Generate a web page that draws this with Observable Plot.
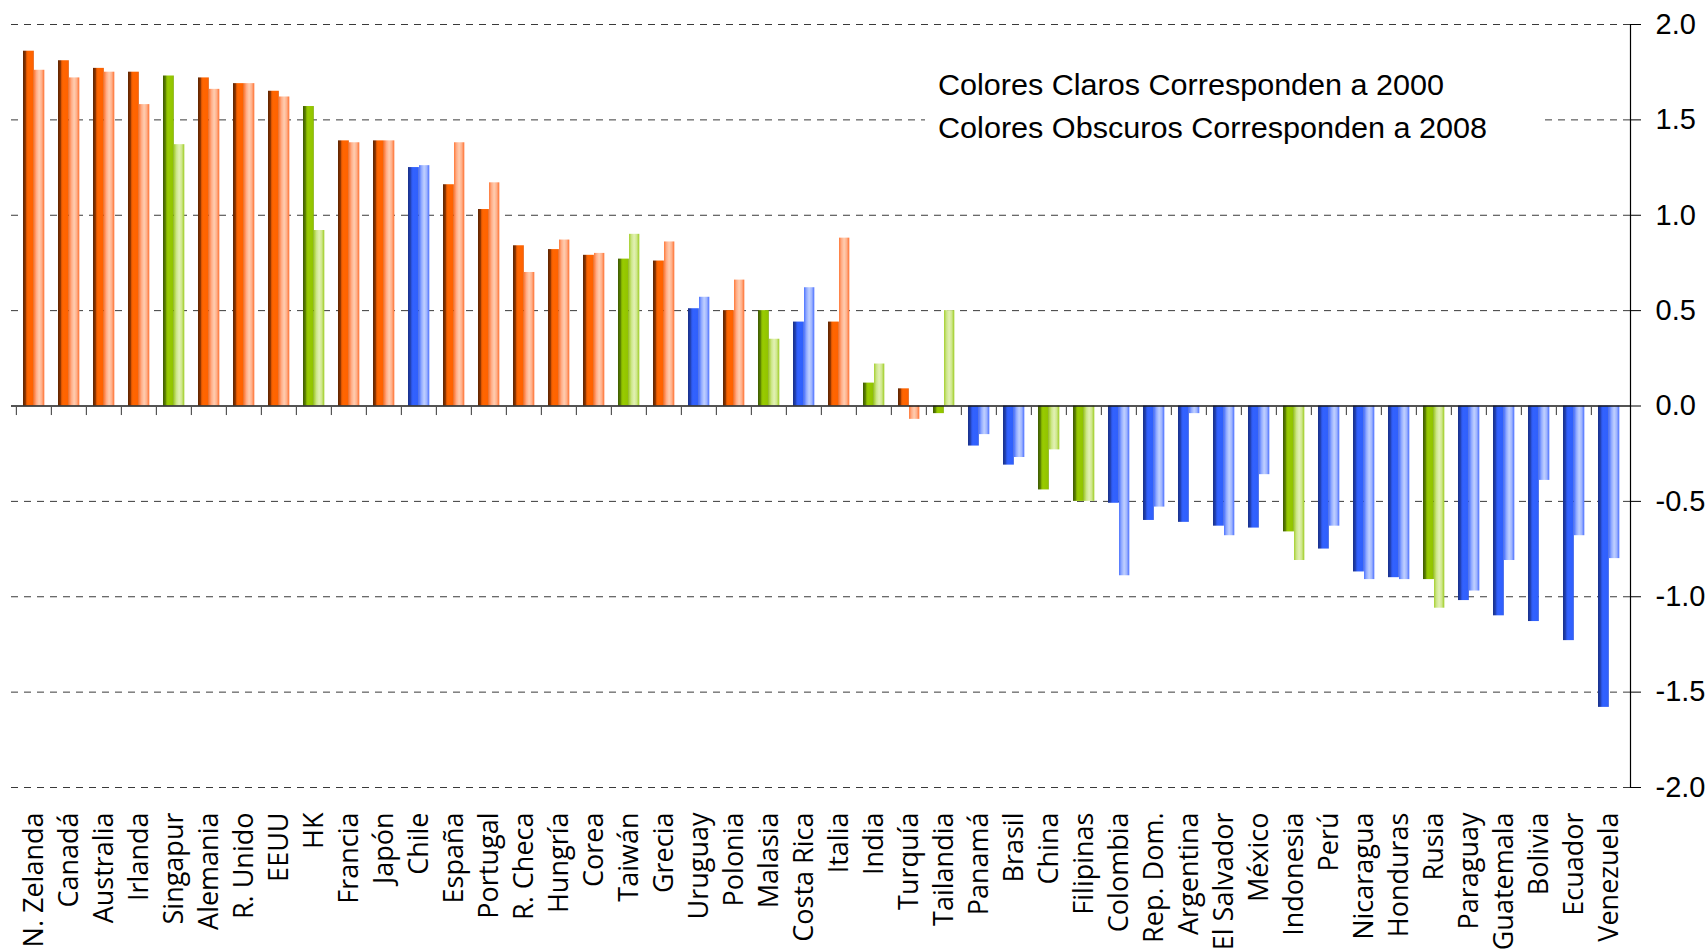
<!DOCTYPE html>
<html>
<head>
<meta charset="utf-8">
<script src="https://cdn.jsdelivr.net/npm/d3@7"></script>
<script src="https://cdn.jsdelivr.net/npm/@observablehq/plot@0.6"></script>
<style>
  html, body { margin: 0; padding: 0; background: #fff; }
  #wrap { position: relative; width: 1707px; height: 952px; overflow: hidden; }
  #legend { position: absolute; left: 925px; top: 58px; width: 616px; height: 92px; background: #fff; }
</style>
</head>
<body>
<div id="wrap"></div>
<script>
const countries = ["N. Zelanda","Canadá","Australia","Irlanda","Singapur","Alemania","R. Unido","EEUU","HK","Francia","Japón","Chile","España","Portugal","R. Checa","Hungría","Corea","Taiwán","Grecia","Uruguay","Polonia","Malasia","Costa Rica","Italia","India","Turquía","Tailandia","Panamá","Brasil","China","Filipinas","Colombia","Rep. Dom.","Argentina","El Salvador","México","Indonesia","Perú","Nicaragua","Honduras","Rusia","Paraguay","Guatemala","Bolivia","Ecuador","Venezuela"];
// group: o = advanced economies (orange), g = Asia/other emerging (green), b = Latin America (blue)
const groups = ["o","o","o","o","g","o","o","o","g","o","o","b","o","o","o","o","o","g","o","b","o","g","b","o","g","o","g","b","b","g","g","b","b","b","b","b","g","b","b","b","g","b","b","b","b","b"];
const values2008 = [1.86,1.81,1.77,1.75,1.73,1.72,1.69,1.65,1.57,1.39,1.39,1.25,1.16,1.03,0.84,0.82,0.79,0.77,0.76,0.51,0.50,0.50,0.44,0.44,0.12,0.09,-0.04,-0.21,-0.31,-0.44,-0.50,-0.51,-0.60,-0.61,-0.63,-0.64,-0.66,-0.75,-0.87,-0.90,-0.91,-1.02,-1.10,-1.13,-1.23,-1.58];
const values2000 = [1.76,1.72,1.75,1.58,1.37,1.66,1.69,1.62,0.92,1.38,1.39,1.26,1.38,1.17,0.70,0.87,0.80,0.90,0.86,0.57,0.66,0.35,0.62,0.88,0.22,-0.07,0.50,-0.15,-0.27,-0.23,-0.50,-0.89,-0.53,-0.04,-0.68,-0.36,-0.81,-0.63,-0.91,-0.91,-1.06,-0.97,-0.81,-0.39,-0.68,-0.80];
const yTicks = [-2.0,-1.5,-1.0,-0.5,0.0,0.5,1.0,1.5,2.0];
const legendLines = ["Colores Claros Corresponden a 2000", "Colores Obscuros Corresponden a 2008"];

const rows = countries.map((c, i) => ({country: c, group: groups[i], v08: values2008[i], v00: values2000[i]}));

const W = 1707, H = 952;
const ml = 11, mr = 77, mt = 24, mb = 165;
const bw = (W - ml - mr) / countries.length;

const gradients = {
  od: [[0,"#5e2400"],[0.22,"#8a3300"],[0.34,"#e85a00"],[0.45,"#ff6600"],[0.88,"#ff6200"],[1,"#e05400"]],
  ol: [[0,"#ff7a3a"],[0.25,"#ffae88"],[0.5,"#ffcdb0"],[0.75,"#ffb08a"],[1,"#ff7030"]],
  gd: [[0,"#3d5a00"],[0.22,"#5a8000"],[0.34,"#88b800"],[0.45,"#99cc00"],[0.88,"#92c400"],[1,"#7aa800"]],
  gl: [[0,"#a6d030"],[0.25,"#cde68a"],[0.5,"#e2f1b4"],[0.75,"#cfe78c"],[1,"#9ccc20"]],
  bd: [[0,"#18308a"],[0.22,"#2140b0"],[0.34,"#2c56e8"],[0.45,"#3262ff"],[0.88,"#3060fc"],[1,"#2a52e0"]],
  bl: [[0,"#4d74ff"],[0.25,"#93acff"],[0.5,"#c0d0ff"],[0.75,"#9fb5ff"],[1,"#4a6eff"]]
};
const gKeys = Object.keys(gradients);

const chart = Plot.plot({
  width: W,
  height: H,
  marginLeft: ml,
  marginRight: mr,
  marginTop: mt,
  marginBottom: mb,
  style: {background: "#fff", color: "#000", fontFamily: "'Liberation Sans', sans-serif"},
  x: {type: "band", domain: countries, padding: 0, label: null},
  y: {domain: [-2, 2], label: null},
  color: {type: "ordinal", domain: gKeys, range: gKeys.map(k => `url(#grad-${k})`)},
  marks: [
    Plot.gridY(yTicks.filter(d => d !== 0), {stroke: "#3a3a3a", strokeOpacity: 1, strokeDasharray: "7,6", strokeWidth: 1}),
    Plot.barY(rows, {x: "country", y: "v08", fill: d => d.group + "d", insetLeft: 7, insetRight: bw - 18}),
    Plot.barY(rows, {x: "country", y: "v00", fill: d => d.group + "l", insetLeft: 18, insetRight: bw - 28.5}),
    Plot.ruleY([0], {stroke: "#1a1a1a", strokeWidth: 1.5}),
    Plot.ruleX(rows, {x: "country", y1: 0, y2: -0.05, dx: -bw / 2, stroke: "#555", strokeWidth: 1.2}),
    Plot.frame({anchor: "right", stroke: "#000", strokeWidth: 1.2}),
    Plot.axisY({anchor: "right", ticks: yTicks, tickSize: 10, tickPadding: 15, tickFormat: d => d.toFixed(1), fontSize: 29, fontFamily: "'Liberation Sans', sans-serif", stroke: "#000"}),
    Plot.axisX({anchor: "bottom", tickSize: 0, tickPadding: 25, tickRotate: -90, fontSize: 27, fontFamily: "'Open Sans', sans-serif"})
  ]
});

// gradient definitions for the cylinder-like bar shading
const defs = d3.select(chart).insert("defs", ":first-child");
for (const k of gKeys) {
  const g = defs.append("linearGradient").attr("id", `grad-${k}`).attr("x1", "0").attr("x2", "1").attr("y1", "0").attr("y2", "0");
  for (const [o, c] of gradients[k]) g.append("stop").attr("offset", o).attr("stop-color", c);
}

const wrap = document.getElementById("wrap");
wrap.appendChild(chart);

// legend annotation (white box over the plot)
const leg = d3.select(wrap).append("svg").attr("id", "legend").attr("width", 616).attr("height", 92);
const lengths = [506, 549];
legendLines.forEach((t, i) => {
  leg.append("text")
    .attr("x", 13)
    .attr("y", 37 + i * 43)
    .attr("font-family", "'Liberation Sans', sans-serif")
    .attr("font-size", 30)
    .attr("fill", "#000")
    .attr("textLength", lengths[i])
    .attr("lengthAdjust", "spacingAndGlyphs")
    .text(t);
});
</script>
</body>
</html>
